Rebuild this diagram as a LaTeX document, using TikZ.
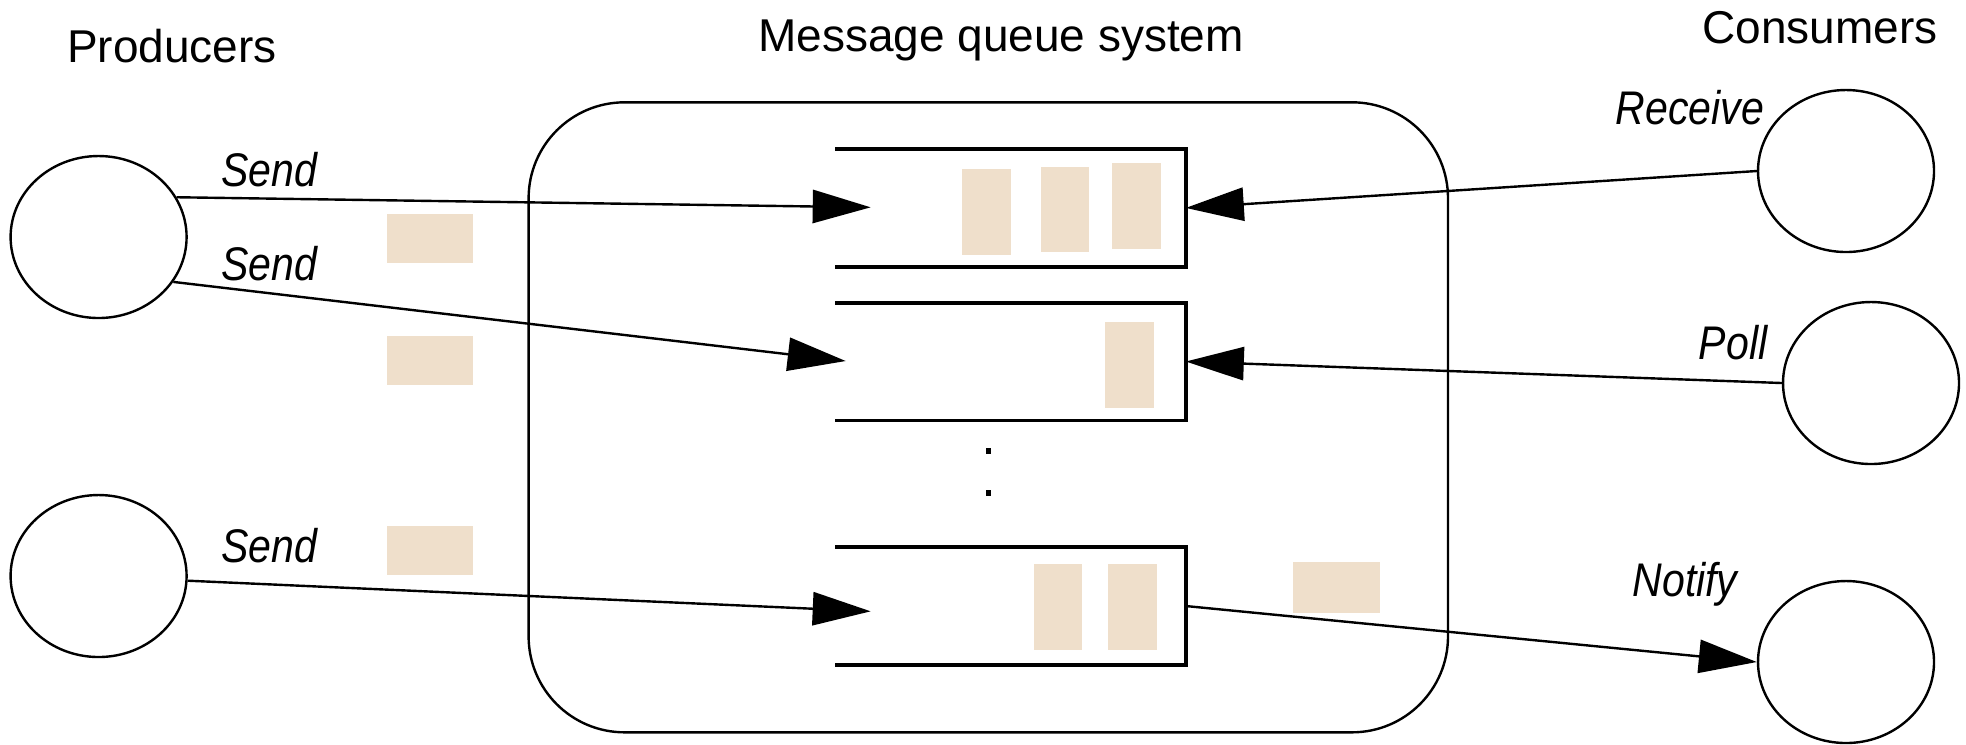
\documentclass[tikz,border=0pt]{standalone}
\usepackage{fontspec}
\setmainfont{Liberation Sans}
\usetikzlibrary{shapes.geometric,arrows.meta}
\definecolor{msg}{RGB}{239,223,203}
\begin{document}
\begin{tikzpicture}[x=0.25pt,y=-0.25pt,
  actor/.style={draw, ellipse, line width=0.6pt, minimum width=44pt, minimum height=40.5pt, inner sep=0pt},
  flow/.style={line width=0.6pt, -{Triangle[length=14.5pt,width=8.3pt]}},
  title/.style={font=\fontsize{11.5}{13}\selectfont, inner sep=0pt, anchor=base},
  lbl/.style={font=\fontsize{11.8}{13}\selectfont\itshape, inner sep=0pt, anchor=base, xscale=0.87, transform shape},
  queue/.style={minimum width=87.25pt, minimum height=29pt, inner sep=0pt},
  qline/.style={line width=0.9pt},
  system/.style={draw, line width=0.6pt, rounded corners=24pt, minimum width=229.85pt, minimum height=157.5pt, inner sep=0pt}]
\useasboundingbox (0,0) rectangle (1966,744);

% message queue system box
\node[system] (mq) at (988.3,417.3) {};

% titles
\node[title] (tprod) at (172,62) {Producers};
\node[title] (tmq) at (1001,51) {Message queue system};
\node[title] (tcons) at (1820,43) {Consumers};

% producers and consumers
\node[actor] (p1) at (98.6,237) {};
\node[actor] (p2) at (98.6,576) {};
\node[actor] (c1) at (1846,171) {};
\node[actor] (c2) at (1871,383) {};
\node[actor] (c3) at (1846,662) {};

% queues
\node[queue] (q1) at (1010.5,207.9) {};
\node[queue] (q2) at (1010.5,361.5) {};
\node[queue] (q3) at (1010.5,606) {};
\foreach \q in {q1,q2,q3}
  \draw[qline] (\q.north west) -- (\q.north east) -- (\q.south east) -- (\q.south west);

% messages
\fill[msg] (387,214) rectangle (473,263);
\fill[msg] (387,336) rectangle (473,385);
\fill[msg] (387,526) rectangle (473,575);
\fill[msg] (961.7,169) rectangle (1011,255);
\fill[msg] (1041,166.7) rectangle (1089.3,252.3);
\fill[msg] (1111.7,163.3) rectangle (1160.7,249.3);
\fill[msg] (1105,321.7) rectangle (1154,408.3);
\fill[msg] (1034,564) rectangle (1082.3,650);
\fill[msg] (1108.3,564) rectangle (1156.7,650);
\fill[msg] (1293,562) rectangle (1380,612.5);

% dots
\fill (985.5,448) rectangle (991,454);
\fill (985.5,490) rectangle (991,496);

% arrow end points inside the queues
\coordinate (t1) at (870.7,207.3);
\coordinate (t2) at (845.7,361);
\coordinate (t3) at (870.7,611.3);

% connectors
\draw[flow] (p1.27) -- (t1);
\draw[flow] (p1.-31) -- (t2);
\draw[flow] (p2.-3) -- (t3);
\draw[flow] (c1.west) -- (q1.east);
\draw[flow] (c2.west) -- (q2.east);
\draw[flow] (q3.east) -- (c3.west);

% labels
\node[lbl] (l1) at (269,186) {Send};
\node[lbl] (l2) at (269,280) {Send};
\node[lbl] (l3) at (269,562) {Send};
\node[lbl] (l4) at (1690,124) {Receive};
\node[lbl] (l5) at (1733,359) {Poll};
\node[lbl] (l6) at (1685,596) {Notify};
\end{tikzpicture}
\end{document}
